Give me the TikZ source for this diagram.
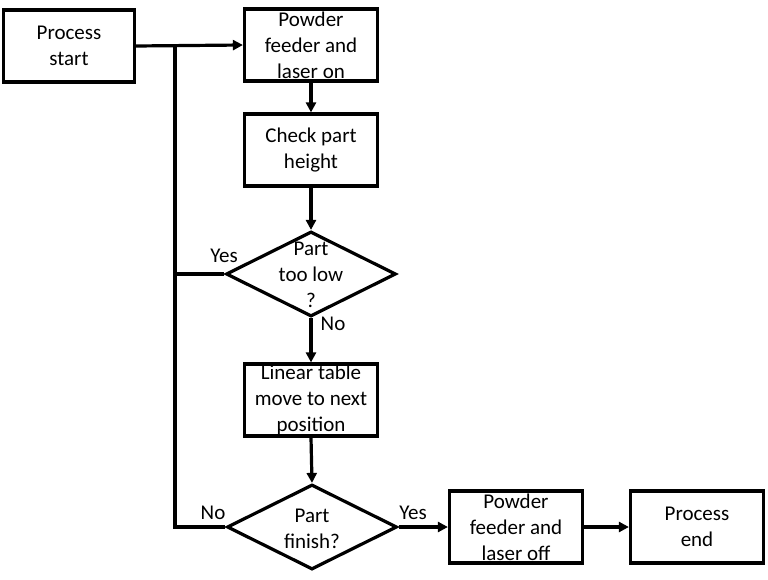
\documentclass[tikz,border=0pt]{standalone}
\usepackage{fontspec}
\setmainfont{Carlito}
\usetikzlibrary{shapes.geometric,arrows.meta}
\begin{document}
\begin{tikzpicture}[x=1pt,y=-1pt,
  every node/.style={font=\fontsize{21}{26}\selectfont},
  box/.style={draw,line width=3.2pt,minimum width=133pt,minimum height=72pt,align=center,inner sep=0pt},
  dia/.style={draw,diamond,line width=3.2pt,minimum width=170pt,minimum height=85pt,inner sep=0pt,aspect=2},
  txt/.style={align=center,inner sep=0pt},
  conn/.style={line width=3.2pt},
  arr/.style={line width=3.2pt,-{Triangle[length=10pt,width=10pt]}}]
\useasboundingbox (0,0) rectangle (768,580);
\node[box,minimum width=131pt] (start) at (69,46) {Process\\start};
\node[box] (on) at (311,45) {Powder\\feeder and\\laser on};
\node[box] (check) at (311,150) {Check part\\height};
\node[dia] (d1) at (311,274) {};
\node[txt] (d1t) at (311,275) {Part\\too low\\?};
\node[box] (lin) at (311,400) {Linear table\\move to next\\position};
\node[dia] (d2) at (312,527) {};
\node[txt] (d2t) at (312,529) {Part\\finish?};
\node[box] (off) at (516,527) {Powder\\feeder and\\laser off};
\node[box] (end) at (697,527) {Process\\end};
\coordinate (j1) at (175,47);
\coordinate (j3) at (175,527);
\node[txt] (yes1) at (224,256) {Yes};
\node[txt] (no1) at (333,324) {No};
\node[txt] (no2) at (213,513) {No};
\node[txt] (yes2) at (413,513) {Yes};
\draw[arr] (start.east) -- (on.west);
\draw[arr] (on.south) -- (check.north);
\draw[arr] (check.south) -- (d1.north);
\draw[arr] (d1.south) -- (lin.north);
\draw[arr] (lin.south) -- (d2.north);
\draw[arr] (d2.east) -- (off.west);
\draw[arr] (off.east) -- (end.west);
\draw[conn] (d2.west) -- (j3) -- (j1);
\draw[conn] (d1.west) -- (d1.west -| j1);
\end{tikzpicture}
\end{document}
